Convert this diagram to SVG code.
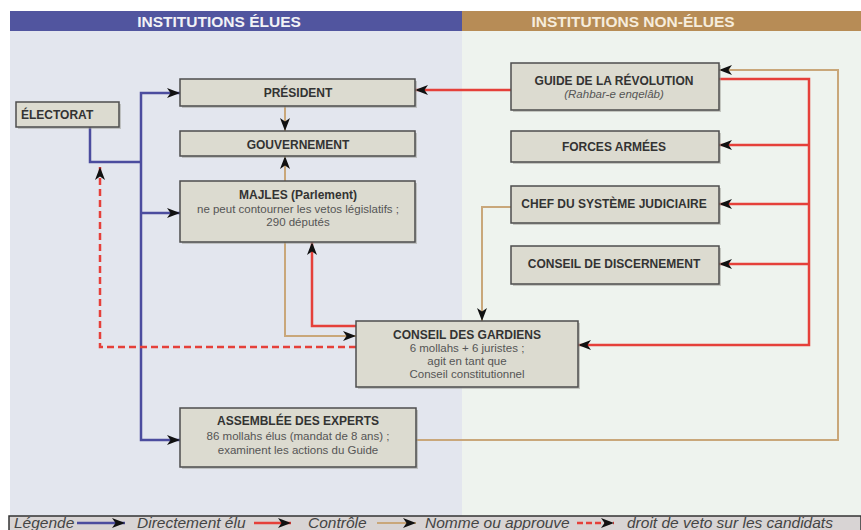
<svg xmlns="http://www.w3.org/2000/svg" width="861" height="530" viewBox="0 0 861 530">
<defs>
<marker id="ah" markerUnits="userSpaceOnUse" markerWidth="14" markerHeight="10" refX="13" refY="5" orient="auto">
<path d="M0,0 L13,5 L0,10 L3.5,5 Z" fill="#111"/>
</marker>
<style>
.hdr{font-family:"Liberation Sans",Arial,sans-serif;font-weight:bold;font-size:15.5px;text-anchor:middle}
.box{fill:#dcdbd0;stroke:#4d4d4d;stroke-width:1.5}
.sh{fill:#9a9a92;opacity:0.5}
.t{font-family:"Liberation Sans",Arial,sans-serif;font-weight:bold;font-size:12px;fill:#333;text-anchor:middle}
.s{font-family:"Liberation Sans",Arial,sans-serif;font-size:11.5px;fill:#555;text-anchor:middle}
.i{font-style:italic}
.blue{fill:none;stroke:#4b4c9e;stroke-width:2.5}
.red{fill:none;stroke:#e5403a;stroke-width:2.5}
.tan{fill:none;stroke:#c9a77a;stroke-width:2}
.dash{fill:none;stroke:#e5403a;stroke-width:2.5;stroke-dasharray:7,4}
.leg{font-family:"Liberation Sans",Arial,sans-serif;font-style:italic;font-size:15.5px;fill:#444}
</style>
</defs>
<rect x="0" y="0" width="861" height="530" fill="#ffffff"/>
<rect x="10" y="31" width="452" height="485" fill="#e3e6ee"/>
<rect x="462" y="31" width="399" height="485" fill="#eef3ee"/>
<rect x="10" y="11" width="452" height="20" fill="#51559f"/>
<rect x="462" y="11" width="399" height="20" fill="#b78c56"/>
<text class="hdr" x="219" y="27" fill="#f2f2f6">INSTITUTIONS ÉLUES</text>
<text class="hdr" x="633" y="27" fill="#f6ecdc">INSTITUTIONS NON-ÉLUES</text>

<g id="connectors">
<path class="blue" d="M90,127 V162 H141"/>
<path class="blue" d="M141,162 V93 H180" marker-end="url(#ah)"/>
<path class="blue" d="M141,162 V440 H180" marker-end="url(#ah)"/>
<path class="blue" d="M141,213 H180" marker-end="url(#ah)"/>
<path class="red" d="M511,90 H415" marker-end="url(#ah)"/>
<path class="red" d="M719,79 H809 V345 H578" marker-end="url(#ah)"/>
<path class="red" d="M809,145 H719" marker-end="url(#ah)"/>
<path class="red" d="M809,204 H719" marker-end="url(#ah)"/>
<path class="red" d="M809,264 H719" marker-end="url(#ah)"/>
<path class="red" d="M356,326 H312 V242" marker-end="url(#ah)"/>
<path class="tan" d="M285,106 V131" marker-end="url(#ah)"/>
<path class="tan" d="M285,181 V156" marker-end="url(#ah)"/>
<path class="tan" d="M285,242 V336 H356" marker-end="url(#ah)"/>
<path class="tan" d="M511,207 H482 V321" marker-end="url(#ah)"/>
<path class="tan" d="M416,440 H838 V70 H719" marker-end="url(#ah)"/>
<path class="dash" d="M356,347 H100 V167" marker-end="url(#ah)"/>
</g>

<g id="electorat">
<rect class="sh" x="18" y="104" width="103" height="25"/>
<rect class="box" x="16" y="102" width="103" height="25"/>
<text class="t" x="21" y="119" style="text-anchor:start">ÉLECTORAT</text>
</g>
<g id="president">
<rect class="sh" x="182" y="81" width="235" height="27"/>
<rect class="box" x="180" y="79" width="235" height="27"/>
<text class="t" x="298" y="97">PRÉSIDENT</text>
</g>
<g id="gouvernement">
<rect class="sh" x="182" y="133" width="235" height="25"/>
<rect class="box" x="180" y="131" width="235" height="25"/>
<text class="t" x="298" y="149">GOUVERNEMENT</text>
</g>
<g id="majles">
<rect class="sh" x="182" y="183" width="235" height="61"/>
<rect class="box" x="180" y="181" width="235" height="61"/>
<text class="t" x="298" y="199">MAJLES (Parlement)</text>
<text class="s" x="298" y="212.5">ne peut contourner les vetos législatifs ;</text>
<text class="s" x="298" y="226">290 députés</text>
</g>
<g id="assemblee">
<rect class="sh" x="182" y="410" width="236" height="59"/>
<rect class="box" x="180" y="408" width="236" height="59"/>
<text class="t" x="298" y="425">ASSEMBLÉE DES EXPERTS</text>
<text class="s" x="298" y="440">86 mollahs élus (mandat de 8 ans) ;</text>
<text class="s" x="298" y="454">examinent les actions du Guide</text>
</g>
<g id="guide">
<rect class="sh" x="513" y="65" width="208" height="47"/>
<rect class="box" x="511" y="63" width="208" height="47"/>
<text class="t" x="614" y="84.5">GUIDE DE LA RÉVOLUTION</text>
<text class="s i" x="614" y="98">(Rahbar-e enqelâb)</text>
</g>
<g id="forces">
<rect class="sh" x="513" y="133" width="208" height="31"/>
<rect class="box" x="511" y="131" width="208" height="31"/>
<text class="t" x="614" y="151">FORCES ARMÉES</text>
</g>
<g id="chef">
<rect class="sh" x="513" y="188" width="208" height="37"/>
<rect class="box" x="511" y="186" width="208" height="37"/>
<text class="t" x="614" y="208">CHEF DU SYSTÈME JUDICIAIRE</text>
</g>
<g id="discernement">
<rect class="sh" x="513" y="248" width="208" height="38"/>
<rect class="box" x="511" y="246" width="208" height="38"/>
<text class="t" x="614" y="268">CONSEIL DE DISCERNEMENT</text>
</g>
<g id="gardiens">
<rect class="sh" x="358" y="323" width="222" height="66"/>
<rect class="box" x="356" y="321" width="222" height="66"/>
<text class="t" x="467" y="339">CONSEIL DES GARDIENS</text>
<text class="s" x="467" y="352">6 mollahs + 6 juristes ;</text>
<text class="s" x="467" y="365">agit en tant que</text>
<text class="s" x="467" y="378">Conseil constitutionnel</text>
</g>

<g id="legende">
<rect x="9" y="516" width="852" height="16" fill="#d8d4d4" stroke="#333" stroke-width="1.5"/>
<text class="leg" x="14" y="528">Légende</text>
<path class="blue" d="M77,523 H125" marker-end="url(#ah)"/>
<text class="leg" x="137" y="528">Directement élu</text>
<path class="red" d="M254,523 H291" marker-end="url(#ah)"/>
<text class="leg" x="308" y="528">Contrôle</text>
<path class="tan" d="M377,523 H416" marker-end="url(#ah)"/>
<text class="leg" x="425" y="528">Nomme ou approuve</text>
<path class="dash" d="M577,523 H614" style="stroke-dasharray:6,3" marker-end="url(#ah)"/>
<text class="leg" x="627" y="528">droit de veto sur les candidats</text>
</g>
</svg>
